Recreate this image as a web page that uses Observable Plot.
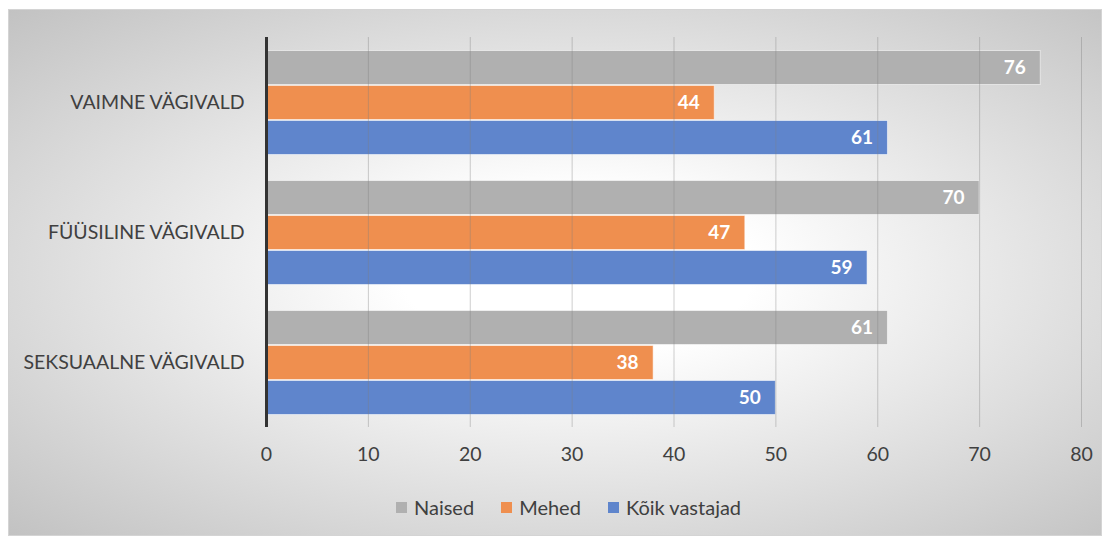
<!DOCTYPE html>
<html>
<head>
<meta charset="utf-8">
<script src="https://cdn.jsdelivr.net/npm/d3@7"></script>
<script src="https://cdn.jsdelivr.net/npm/@observablehq/plot@0.6"></script>
<style>
  html, body { margin: 0; padding: 0; background: #ffffff; }
  #bg {
    position: absolute; left: 8px; top: 9px; width: 1092px; height: 525px;
    border: 1px solid #d4d4d4;
    background: radial-gradient(ellipse farthest-corner at 52% 50%, #ffffff 0%, #ffffff 22%, #c2c2c2 100%);
  }
  #chart { position: absolute; left: 0; top: 0; width: 1110px; }
  #legend {
    position: absolute; left: 396px; top: 495px; display: flex; align-items: center;
    font-family: Lato, "Open Sans", sans-serif; font-size: 20px; color: #404040;
  }
  #legend .item { display: flex; align-items: center; margin-right: 27px; }
  #legend .sw { width: 11px; height: 11px; margin-right: 7px; }
</style>
</head>
<body>
<div id="bg"></div>
<div id="chart"></div>
<div id="legend"></div>
<script>
const categories = ["VAIMNE VÄGIVALD", "FÜÜSILINE VÄGIVALD", "SEKSUAALNE VÄGIVALD"];
const series = ["Naised", "Mehed", "Kõik vastajad"];
const naised = [76, 70, 61];
const mehed = [44, 47, 38];
const koikVastajad = [61, 59, 50];
const xTicks = [0, 10, 20, 30, 40, 50, 60, 70, 80];
const colors = ["#b0b0b0", "#ef8f4f", "#5f85cc"];

const valuesBySeries = [naised, mehed, koikVastajad];
const rows = [];
categories.forEach((c, i) => {
  series.forEach((s, j) => rows.push({category: c, series: s, value: valuesBySeries[j][i]}));
});

const plot = Plot.plot({
  width: 1110,
  height: 480,
  marginLeft: 266,
  marginRight: 29,
  marginTop: 37,
  marginBottom: 53,
  style: {background: "transparent", fontFamily: "Lato, 'Open Sans', sans-serif", fontSize: "19.5px", color: "#404040"},
  facet: {data: rows, y: "category"},
  fy: {domain: categories, padding: 0, tickSize: 0, tickPadding: 22, label: null},
  y: {domain: series, paddingInner: 0, paddingOuter: 0.34, axis: null},
  x: {domain: [0, 80], ticks: xTicks, tickSize: 0, tickPadding: 20, label: null, tickFormat: d => d},
  color: {domain: series, range: colors},
  marks: [
    Plot.barX(rows, {x: "value", y: "series", fill: "series", stroke: "#ffffff", strokeOpacity: 0.55, strokeWidth: 1, insetTop: 0.5, insetBottom: 0.5}),
    Plot.ruleX(xTicks.slice(1), {stroke: "#7f7f7f", strokeOpacity: 0.38, strokeWidth: 1}),
    Plot.text(rows, {x: "value", y: "series", text: d => String(d.value), fill: "#ffffff", fontWeight: "bold", fontSize: 19, textAnchor: "end", dx: -15}),
    Plot.ruleX([0], {stroke: "#333333", strokeWidth: 3})
  ]
});
document.getElementById("chart").appendChild(plot);

const legend = document.getElementById("legend");
series.forEach((s, i) => {
  const item = document.createElement("div");
  item.className = "item";
  const sw = document.createElement("span");
  sw.className = "sw";
  sw.style.background = colors[i];
  const lbl = document.createElement("span");
  lbl.textContent = s;
  item.appendChild(sw);
  item.appendChild(lbl);
  legend.appendChild(item);
});
</script>
</body>
</html>
